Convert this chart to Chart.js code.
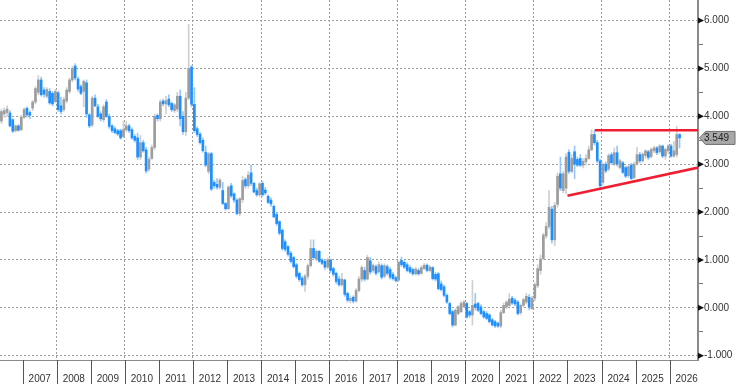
<!DOCTYPE html>
<html>
<head>
<meta charset="utf-8">
<script src="https://cdn.jsdelivr.net/npm/chart.js@4.4.1/dist/chart.umd.min.js"></script>
<style>
  html, body { margin:0; padding:0; background:#fff; }
  #wrap { width:736px; height:384px; }
</style>
</head>
<body>
<div id="wrap"><canvas id="chart" width="736" height="384"></canvas></div>
<script>
// monthly candles, first one is May 2006
const firstYear = 2006, firstMonth = 4; // 0-based month index (May)

const opens = [
  3.90,4.05,4.08,4.07,3.93,3.70,3.80,3.72,
  3.98,4.17,4.08,4.17,4.30,4.50,4.76,4.55,4.42,4.52,4.48,4.31,
  4.49,4.22,4.14,4.32,4.52,4.76,5.05,4.78,4.62,4.52,4.70,4.03,
  3.82,4.38,4.20,4.05,3.93,4.30,4.00,3.80,3.74,3.70,3.70,3.58,
  3.72,3.80,3.72,3.58,3.55,3.15,3.45,3.30,2.90,3.12,3.35,4.02,
  3.95,4.32,4.26,4.36,4.27,4.12,4.15,4.42,4.00,3.68,4.38,5.03,
  4.25,3.74,3.63,3.50,3.25,2.85,3.22,2.62,2.58,2.52,2.45,2.18,
  2.07,2.55,2.38,2.25,1.97,2.26,2.68,2.55,2.82,2.60,2.45,2.36,
  2.60,2.46,2.33,2.25,2.12,1.95,1.80,1.62,1.38,1.28,1.14,1.05,
  0.90,0.72,0.62,0.48,0.66,0.88,1.24,1.02,1.18,1.00,0.97,0.85,
  1.00,0.82,0.72,0.60,0.48,0.58,0.30,0.15,0.22,0.14,0.36,0.60,
  0.78,0.60,0.98,0.78,0.86,0.75,0.88,0.66,0.86,0.80,0.70,0.63,
  0.58,0.99,0.95,0.90,0.84,0.80,0.71,0.78,0.72,0.82,0.89,0.78,
  0.84,0.70,0.71,0.50,0.44,0.26,0.09,-0.08,-0.36,-0.12,-0.08,0.02,
  0.09,-0.08,-0.15,0.08,0.09,0.02,-0.08,-0.12,-0.15,-0.25,-0.29,-0.32,
  -0.38,-0.10,0.02,0.05,0.20,0.16,0.12,-0.10,0.05,0.12,0.22,-0.02,
  0.20,0.46,0.78,1.03,1.50,1.70,2.06,1.42,2.16,2.80,2.45,2.50,
  3.25,2.85,3.26,3.10,3.12,2.98,3.05,3.12,3.30,3.62,3.45,3.07,
  2.62,3.00,2.90,3.20,3.00,3.24,2.93,3.03,2.93,2.76,2.98,2.72,
  3.00,3.20,3.07,3.18,3.26,3.16,3.28,3.34,3.26,3.38,3.17,3.28,
  3.38,3.17,3.20,3.62
];
const highs = [
  4.15,4.18,4.22,4.12,3.95,3.82,3.83,4.02,
  4.18,4.20,4.12,4.33,4.62,4.85,4.82,4.60,4.60,4.58,4.52,4.56,
  4.53,4.40,4.40,4.60,4.80,5.05,5.10,4.82,4.66,4.76,4.76,4.06,
  4.42,4.45,4.25,4.10,4.24,4.35,4.05,3.83,3.78,3.73,3.73,3.90,
  3.90,3.84,3.76,3.62,3.65,3.60,3.50,3.35,3.15,3.40,4.05,4.05,
  4.35,4.36,4.42,4.45,4.30,4.27,4.50,4.55,4.10,4.50,5.92,5.06,
  4.60,3.78,3.66,3.55,3.38,3.25,3.25,2.66,2.70,2.70,2.62,2.20,
  2.55,2.60,2.40,2.28,2.30,2.75,2.72,2.85,2.98,2.62,2.50,2.62,
  2.64,2.52,2.36,2.30,2.15,1.98,1.82,1.65,1.42,1.30,1.18,1.08,
  0.93,0.75,0.66,0.70,0.92,1.42,1.42,1.22,1.20,1.03,1.00,1.04,
  1.02,0.85,0.75,0.66,0.72,0.60,0.33,0.25,0.25,0.40,0.65,0.88,
  0.85,1.10,1.05,0.92,0.90,0.96,0.92,0.92,0.90,0.84,0.74,0.66,
  0.98,1.06,0.98,0.94,0.88,0.83,0.84,0.82,0.88,0.93,0.92,0.88,
  0.86,0.74,0.74,0.56,0.47,0.29,0.12,-0.05,-0.02,0.05,0.13,0.15,
  0.12,-0.05,0.57,0.30,0.12,0.06,-0.05,-0.08,-0.12,-0.22,-0.26,-0.30,
  -0.05,0.10,0.15,0.30,0.24,0.20,0.15,0.08,0.20,0.30,0.28,0.24,
  0.52,0.90,1.10,1.56,1.78,2.45,2.12,2.20,2.82,3.15,2.85,3.22,
  3.30,3.20,3.38,3.15,3.20,3.12,3.20,3.38,3.72,3.70,3.50,3.10,
  3.03,3.05,3.22,3.24,3.34,3.38,3.10,3.06,2.96,2.98,3.02,3.04,
  3.35,3.25,3.24,3.30,3.29,3.34,3.38,3.37,3.41,3.40,3.34,3.41,
  3.42,3.48,3.79,3.64
];
const lows = [
  3.85,3.98,4.00,3.78,3.66,3.67,3.69,3.70,
  3.95,3.98,3.95,4.12,4.26,4.45,4.42,4.40,4.38,4.25,4.22,4.28,
  4.10,4.05,4.10,4.28,4.48,4.72,4.76,4.52,4.45,4.20,3.98,3.76,
  3.78,4.20,3.97,3.90,3.88,3.97,3.75,3.66,3.63,3.60,3.52,3.55,
  3.68,3.66,3.52,3.46,3.10,3.10,3.25,2.82,2.85,3.10,3.30,3.90,
  3.90,4.22,4.05,4.20,4.10,4.08,4.10,3.80,3.62,3.60,4.35,4.20,
  3.66,3.58,3.42,3.25,2.95,2.80,2.45,2.50,2.48,2.48,2.15,2.04,
  2.05,2.30,2.20,1.94,1.92,2.20,2.50,2.50,2.55,2.40,2.33,2.33,
  2.33,2.36,2.18,2.12,1.88,1.72,1.52,1.20,1.18,1.08,0.94,0.83,
  0.62,0.55,0.45,0.34,0.60,0.85,1.00,0.98,0.95,0.90,0.80,0.82,
  0.74,0.66,0.50,0.45,0.45,0.24,0.12,0.10,0.10,0.12,0.33,0.55,
  0.56,0.58,0.70,0.74,0.68,0.72,0.60,0.62,0.68,0.60,0.58,0.54,
  0.55,0.86,0.82,0.75,0.72,0.68,0.68,0.68,0.70,0.80,0.75,0.75,
  0.58,0.56,0.37,0.35,0.23,0.09,-0.15,-0.40,-0.38,-0.15,-0.10,0.00,
  -0.22,-0.20,-0.36,-0.05,-0.08,-0.15,-0.22,-0.25,-0.32,-0.38,-0.41,-0.41,
  -0.42,-0.12,-0.02,0.03,0.07,0.04,-0.15,-0.14,0.02,0.08,-0.04,-0.03,
  0.15,0.42,0.70,1.00,1.45,1.65,1.35,1.30,2.10,2.45,2.40,2.38,
  2.80,2.82,2.70,2.95,2.95,2.92,2.98,3.10,3.28,3.40,3.03,2.50,
  2.58,2.82,2.86,3.00,2.97,2.96,2.90,2.80,2.72,2.72,2.68,2.70,
  2.98,3.03,3.04,3.12,3.10,3.13,3.24,3.20,3.22,3.14,3.10,3.22,
  3.14,3.14,3.15,3.34
];
const closes = [
  4.10,4.12,4.15,3.80,3.69,3.80,3.71,3.98,
  4.14,4.03,4.02,4.30,4.58,4.76,4.45,4.46,4.56,4.28,4.26,4.52,
  4.14,4.10,4.35,4.55,4.76,5.00,4.80,4.57,4.48,4.73,4.05,3.80,
  4.38,4.22,4.00,3.95,4.20,4.00,3.79,3.70,3.66,3.63,3.55,3.72,
  3.80,3.70,3.55,3.50,3.15,3.45,3.28,2.86,3.10,3.35,4.00,3.95,
  4.30,4.26,4.33,4.24,4.14,4.24,4.42,3.95,3.68,4.38,5.00,4.25,
  3.70,3.62,3.45,3.28,2.98,3.22,2.48,2.55,2.52,2.67,2.18,2.07,
  2.52,2.34,2.25,1.97,2.28,2.66,2.55,2.77,2.60,2.42,2.36,2.59,
  2.36,2.40,2.20,2.17,1.90,1.76,1.56,1.24,1.22,1.12,0.97,0.86,
  0.66,0.59,0.48,0.66,0.88,1.24,1.05,1.18,0.97,0.93,0.85,1.00,
  0.78,0.70,0.55,0.48,0.60,0.28,0.16,0.20,0.14,0.36,0.60,0.84,
  0.60,1.05,0.75,0.89,0.72,0.90,0.64,0.88,0.72,0.64,0.61,0.57,
  0.95,0.90,0.85,0.78,0.75,0.71,0.81,0.71,0.84,0.89,0.78,0.85,
  0.61,0.60,0.40,0.38,0.26,0.12,-0.12,-0.36,-0.05,0.02,0.09,0.12,
  -0.19,-0.15,0.05,0.00,-0.05,-0.12,-0.19,-0.22,-0.29,-0.36,-0.38,-0.38,
  -0.10,0.05,0.12,0.18,0.10,0.08,-0.12,0.05,0.17,0.24,0.00,0.20,
  0.48,0.82,1.02,1.52,1.70,2.10,1.42,2.14,2.75,2.50,2.80,3.15,
  2.85,3.12,3.00,2.98,2.98,3.06,3.12,3.30,3.62,3.45,3.07,2.55,
  3.00,2.86,3.18,3.03,3.24,3.00,3.07,2.83,2.75,2.95,2.70,3.00,
  3.20,3.07,3.21,3.28,3.14,3.31,3.34,3.24,3.38,3.17,3.31,3.38,
  3.17,3.28,3.62,3.549
];

const yearLabels = [2007,2008,2009,2010,2011,2012,2013,2014,2015,2016,2017,2018,2019,2020,2021,2022,2023,2024,2025,2026];
const yMajor = [-1,0,1,2,3,4,5,6];
const yMinor = [-0.5,0.5,1.5,2.5,3.5,4.5,5.5];
const lastValue = 3.549;

// trend lines drawn on the chart (x in years, y in %)
const resistanceLine = [{x: 2023.80, y: 3.71}, {x: 2026.84, y: 3.71}];
const supportLine = [{x: 2023.00, y: 2.34}, {x: 2026.84, y: 2.93}];

const UP_BODY = '#9d9d9d', UP_WICK = '#cfcfcf';
const DN_BODY = '#1e8fff', DN_WICK = '#92c8ff';
const FONT = {family: '"Liberation Sans", Arial, sans-serif', size: 10};
const CLEAR = 'rgba(0,0,0,0)';
const AXIS_H = 24;

function monthX(i) { return firstYear + (firstMonth + i + 0.5) / 12; }

const isUp = closes.map((c, i) => c >= opens[i]);
const bodies = closes.map((c, i) => ({x: monthX(i), y: [opens[i], c]}));
const wicks = closes.map((c, i) => ({x: monthX(i), y: [lows[i], highs[i]]}));

// year labels and separators under the plot, arrow marks and last price tag on the right
const axisMarks = {
  id: 'axisMarks',
  afterDraw(chart) {
    const xs = chart.scales.x, ys = chart.scales.y, ctx = chart.ctx;
    const bottom = chart.chartArea.bottom;
    ctx.save();
    ctx.font = FONT.size + 'px ' + FONT.family;

    ctx.strokeStyle = '#555';
    ctx.lineWidth = 1;
    yearLabels.forEach(y => {
      const px = Math.round(xs.getPixelForValue(y)) + 0.5;
      ctx.beginPath();
      ctx.moveTo(px, bottom);
      ctx.lineTo(px, chart.height);
      ctx.stroke();
    });
    ctx.fillStyle = '#333';
    ctx.textAlign = 'center';
    ctx.textBaseline = 'middle';
    yearLabels.forEach(y => {
      ctx.fillText(String(y), xs.getPixelForValue(y + 0.5), bottom + 19);
    });

    ctx.fillStyle = '#111';
    yMajor.forEach(v => {
      const py = ys.getPixelForValue(v);
      ctx.beginPath();
      ctx.moveTo(ys.left, py - 3);
      ctx.lineTo(ys.left + 6, py);
      ctx.lineTo(ys.left, py + 3);
      ctx.closePath();
      ctx.fill();
    });

    const py = ys.getPixelForValue(lastValue);
    const x0 = ys.left + 1.5, x1 = chart.width - 1;
    ctx.beginPath();
    ctx.moveTo(x0, py);
    ctx.lineTo(x0 + 6, py - 6.5);
    ctx.lineTo(x1, py - 6.5);
    ctx.lineTo(x1, py + 6.5);
    ctx.lineTo(x0 + 6, py + 6.5);
    ctx.closePath();
    ctx.fillStyle = '#a8a8a8';
    ctx.fill();
    ctx.strokeStyle = '#707070';
    ctx.stroke();
    ctx.fillStyle = '#222';
    ctx.textAlign = 'left';
    ctx.fillText(lastValue.toFixed(3), ys.left + 6, py + 0.5);
    ctx.restore();
  }
};

new Chart(document.getElementById('chart'), {
  type: 'bar',
  data: {
    datasets: [
      {type: 'line', data: resistanceLine, borderColor: '#f01e32', borderWidth: 2.5, pointRadius: 0, order: 0},
      {type: 'line', data: supportLine, borderColor: '#f01e32', borderWidth: 2.5, pointRadius: 0, order: 0},
      {data: bodies, backgroundColor: isUp.map(u => u ? UP_BODY : DN_BODY), barThickness: 2, minBarLength: 1, grouped: false, order: 1},
      {data: wicks, backgroundColor: isUp.map(u => u ? UP_WICK : DN_WICK), barThickness: 1, grouped: false, order: 2},
    ]
  },
  options: {
    responsive: false,
    animation: false,
    layout: {padding: 0},
    plugins: {legend: {display: false}, tooltip: {enabled: false}},
    scales: {
      x: {
        type: 'linear',
        min: firstYear + firstMonth / 12,
        max: 2026 + 10 / 12,
        offset: false,
        bounds: 'data',
        afterBuildTicks: s => {
          s.ticks = yearLabels.filter(y => y % 2 === 0).map(y => ({value: y}));
        },
        afterFit: s => { s.height = AXIS_H; s.paddingLeft = 0; s.paddingRight = 0; },
        ticks: {display: false},
        grid: {offset: false, color: '#9c9c9c', drawTicks: false, lineWidth: 1},
        border: {display: true, color: '#8a8a8a', width: 1, dash: [2, 2]}
      },
      y: {
        type: 'linear',
        position: 'right',
        min: -1.09,
        max: 6.43,
        bounds: 'data',
        afterBuildTicks: s => {
          s.ticks = yMajor.concat(yMinor).sort((a, b) => a - b).map(v => ({value: v}));
        },
        afterFit: s => { s.width = 38; s.paddingTop = 0; s.paddingBottom = 0; },
        ticks: {
          padding: 1, color: '#333', font: FONT,
          callback: v => Number.isInteger(v) ? v.toFixed(3) : ''
        },
        grid: {
          color: c => (c.tick && Number.isInteger(c.tick.value)) ? '#9c9c9c' : CLEAR,
          tickColor: c => (c.tick && Number.isInteger(c.tick.value)) ? CLEAR : '#777',
          tickLength: 5, lineWidth: 1
        },
        border: {display: true, color: '#8a8a8a', width: 2, dash: [2, 2]}
      }
    }
  },
  plugins: [axisMarks]
});
</script>
</body>
</html>
